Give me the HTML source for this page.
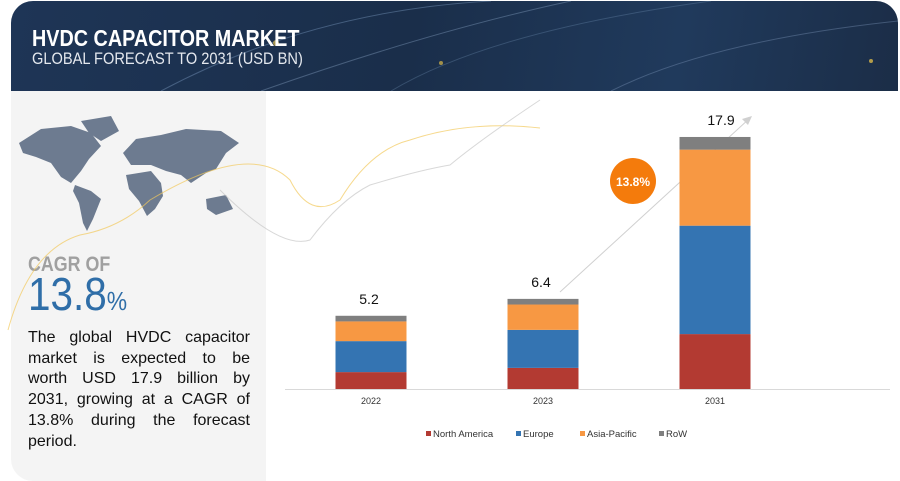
<!DOCTYPE html>
<html><head><meta charset="utf-8"><style>
body{margin:0;width:900px;height:481px;background:#fff;font-family:"Liberation Sans",sans-serif;overflow:hidden;position:relative}
#header{position:absolute;left:11px;top:1px;width:887px;height:90px;border-radius:22px 22px 0 0;background:linear-gradient(100deg,#1e3556 0%,#1a2e4a 45%,#203a5c 75%,#1b2d47 100%);overflow:hidden}
#title{position:absolute;left:21px;top:24px;color:#fff;font-size:23px;font-weight:bold;transform:scaleX(.86);transform-origin:left;white-space:nowrap}
#subtitle{position:absolute;left:21px;top:48px;color:#e4e8ee;font-size:17px;transform:scaleX(.86);transform-origin:left;white-space:nowrap}
#left{position:absolute;left:11px;top:91px;width:255px;height:390px;background:#f4f4f4;border-radius:0 0 0 22px}
#cagr-of{position:absolute;left:17px;top:162px;color:#a0a0a0;font-size:21px;font-weight:bold;transform:scaleX(.85);transform-origin:left}
#cagr-val{position:absolute;left:17px;top:176px;color:#2f6ea8;font-size:46px;transform:scaleX(.88);transform-origin:left;white-space:nowrap}
#desc{position:absolute;left:17px;top:237px;width:222px;font-size:16px;line-height:20.7px;color:#111}
#desc div{text-align:justify;text-align-last:justify;white-space:nowrap;word-spacing:0}
#desc div.last{text-align-last:left}
#chart{position:absolute;left:0;top:0}
</style></head><body>
<div id="header">
<svg width="887" height="90" style="position:absolute;left:0;top:0">
<path d="M150 90 Q300 10 480 0" stroke="#6d8cb0" stroke-width="1" fill="none" opacity=".5"/>
<path d="M250 90 Q420 30 560 0" stroke="#8aa5c5" stroke-width="1" fill="none" opacity=".4"/>
<path d="M600 90 Q700 40 887 20" stroke="#7d97b8" stroke-width="1" fill="none" opacity=".4"/>
<path d="M380 90 Q480 30 700 0" stroke="#6d8cb0" stroke-width="1" fill="none" opacity=".35"/>
<circle cx="265" cy="42" r="3" fill="#d9b84a" opacity=".7"/><circle cx="430" cy="62" r="2" fill="#d9b84a" opacity=".7"/><circle cx="860" cy="60" r="2" fill="#d9b84a" opacity=".8"/>
</svg>
<div id="title">HVDC CAPACITOR MARKET</div>
<div id="subtitle">GLOBAL FORECAST TO 2031 (USD BN)</div>
</div>
<div id="left">
<svg width="255" height="200" style="position:absolute;left:0;top:0">
<g fill="#6d7b90">
<path d="M8 52 L30 38 L60 35 L80 42 L90 55 L78 68 L70 80 L60 92 L50 86 L40 72 L25 66 L12 62Z"/>
<path d="M70 30 L100 25 L108 40 L90 50 L78 42Z"/>
<path d="M64 94 L80 100 L90 108 L82 128 L76 140 L72 132 L68 112 L62 100Z"/>
<path d="M115 84 L140 80 L150 92 L152 105 L144 118 L136 125 L128 110 L118 98Z"/>
<path d="M112 62 L125 48 L150 44 L175 38 L210 40 L228 52 L215 62 L205 78 L195 82 L180 92 L170 84 L155 80 L140 74 L120 74Z"/>
<path d="M195 108 L215 104 L222 118 L205 124 L196 118Z"/>
</g></svg>
<div id="cagr-of">CAGR OF</div>
<div id="cagr-val">13.8<span style="font-size:26px">%</span></div>
<div id="desc">
<div>The global HVDC capacitor</div>
<div>market is expected to be</div>
<div>worth USD 17.9 billion by</div>
<div>2031, growing at a CAGR of</div>
<div>13.8% during the forecast</div>
<div class="last">period.</div>
</div>
</div>
<svg id="chart" width="900" height="481">
<path d="M8 330 Q30 250 80 235 Q120 228 150 200 Q250 140 290 180 Q310 220 340 200 Q370 150 410 140 Q470 120 540 128" stroke="#f2c95c" stroke-width="1" fill="none" opacity=".7"/>
<path d="M220 190 Q280 250 310 240 Q340 200 370 185 Q420 170 450 165 Q480 140 540 100" stroke="#c8c8c8" stroke-width="1" fill="none" opacity=".7"/>
<line x1="285" y1="389.5" x2="890" y2="389.5" stroke="#d9d9d9"/>
<line x1="560" y1="292" x2="750" y2="118" stroke="#d0d0d0"/>
<polygon points="752,116 742,119 748,125" fill="#d0d0d0"/>
<circle cx="633" cy="181" r="23" fill="#f47b0c"/>
<text x="633" y="186" text-anchor="middle" font-size="12" font-weight="bold" fill="#fff">13.8%</text>
<g id="bars"></g>
<g id="legend"></g>
</svg>
<script>
const categories=["2022","2023","2031"];
const totals=["5.2","6.4","17.9"];
const northAmerica=[1.2,1.5,3.9];
const europe=[2.2,2.7,7.7];
const asiaPacific=[1.4,1.8,5.4];
const row=[0.4,0.4,0.9];
const seriesNames=["North America","Europe","Asia-Pacific","RoW"];
const seriesData=[northAmerica,europe,asiaPacific,row];
const colors=["#b33a32","#3474b2","#f79843","#7f7f7f"];
const ns="http://www.w3.org/2000/svg";
const baseY=389, pxPerUnit=14.08;
const y=v=>baseY-v*pxPerUnit;
const xc=i=>371+i*172;
const bw=71;
const g=document.getElementById('bars');
categories.forEach((c,i)=>{
  let cum=0;
  seriesData.forEach((s,k)=>{
    const r=document.createElementNS(ns,'rect');
    r.setAttribute('x',xc(i)-bw/2);r.setAttribute('width',bw);
    r.setAttribute('y',y(cum+s[i]));r.setAttribute('height',s[i]*pxPerUnit);
    r.setAttribute('fill',colors[k]);
    
    
    g.appendChild(r);cum+=s[i];
  });
  const t=document.createElementNS(ns,'text');
  t.setAttribute('x',xc(i)+(i==2?6:-2));t.setAttribute('y',y(cum)-12);
  t.setAttribute('text-anchor','middle');t.setAttribute('font-size','14');t.setAttribute('fill','#111');
  t.textContent=totals[i];
  
  
  g.appendChild(t);
  const l=document.createElementNS(ns,'text');
  l.setAttribute('x',xc(i));l.setAttribute('y',404);
  l.setAttribute('text-anchor','middle');l.setAttribute('font-size','9');l.setAttribute('fill','#333');
  l.textContent=c;
  
  
  g.appendChild(l);
});
const lg=document.getElementById('legend');
const lx=[426,516,580,659];
seriesNames.forEach((n,k)=>{
  const r=document.createElementNS(ns,'rect');
  r.setAttribute('x',lx[k]);r.setAttribute('y',431);r.setAttribute('width',5);r.setAttribute('height',5);r.setAttribute('fill',colors[k]);
  
  
  lg.appendChild(r);
  const t=document.createElementNS(ns,'text');
  t.setAttribute('x',lx[k]+7);t.setAttribute('y',437);t.setAttribute('font-size','9.5');t.setAttribute('fill','#333');
  t.textContent=n;
  
  
  lg.appendChild(t);
});
</script>
</body></html>
